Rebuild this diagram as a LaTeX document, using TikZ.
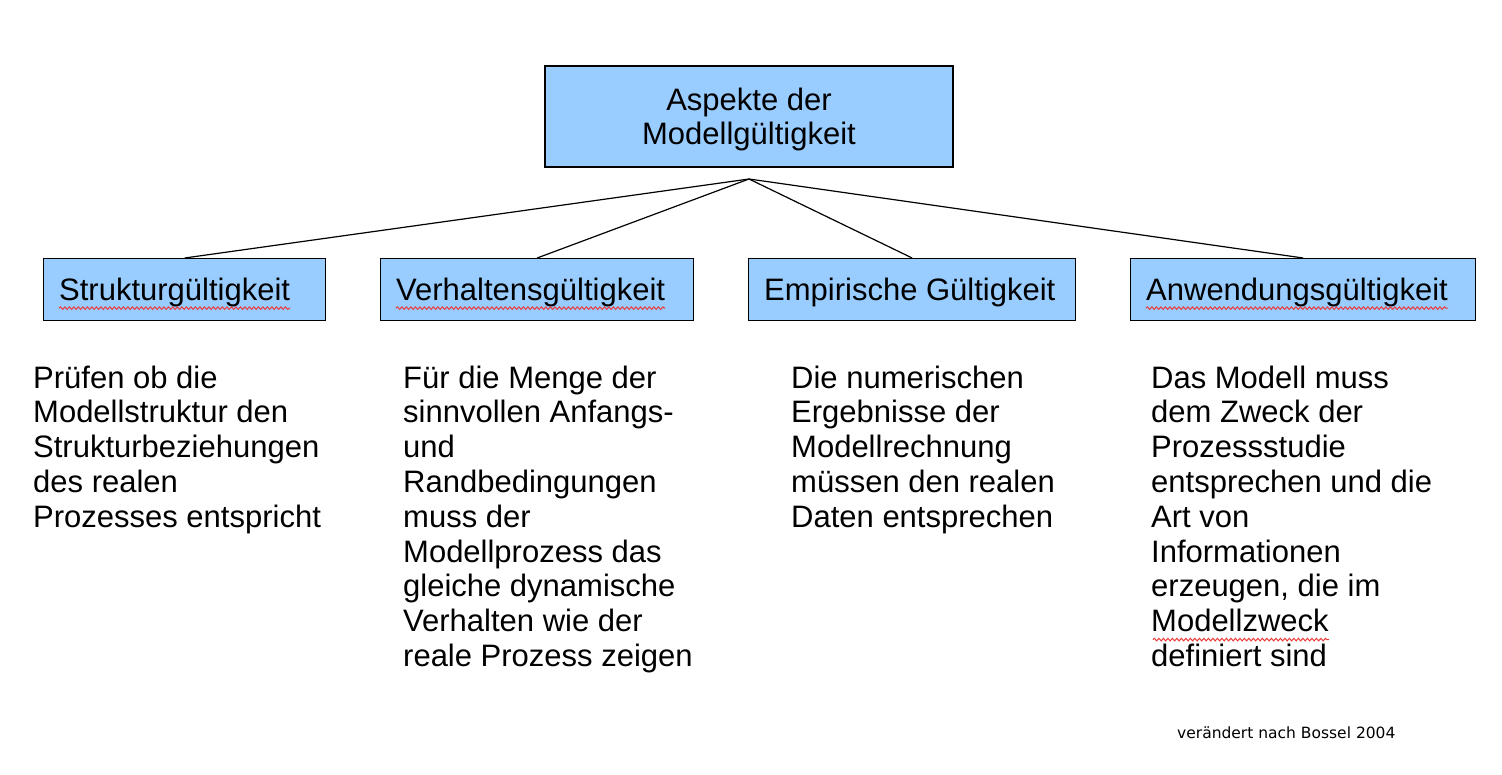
\documentclass[tikz,border=0pt]{standalone}
\usepackage{fontspec}
\setmainfont{Liberation Sans}
\newfontfamily\notefont{DejaVu Sans}
\usetikzlibrary{positioning}
\usetikzlibrary{decorations.pathmorphing}
\definecolor{boxblue}{RGB}{153,204,255}
\definecolor{spellred}{RGB}{235,60,60}
\tikzset{
  aspect/.style={draw=black, fill=boxblue, line width=1.3pt, inner sep=0pt},
  boxtext/.style={inner sep=0pt},
  bodytext/.style={inner sep=0pt, align=left},
  branch/.style={line width=1.2pt},
  wavy/.style={draw=spellred, line width=1pt, decorate,
    decoration={snake, segment length=4.5pt, amplitude=1.3pt}}
}

\begin{document}
\begin{tikzpicture}[x=1pt,y=1pt,yscale=-1,xscale=1,font=\fontsize{31}{34.8}\selectfont]
\useasboundingbox (0,0) rectangle (1502,774); %same frame as the slide

%Shape: top box
\node[aspect, minimum width=408, minimum height=101] (top) at (749,116.5) {};
\node[boxtext, align=center] (topt) at ([yshift=3]top.center) {Aspekte der\\Modellgültigkeit};
\coordinate (apex) at (749,179);

%Shape: the four aspect boxes
\node[aspect, minimum width=282, minimum height=62, anchor=north west] (sg) at (43,258) {};
\node[aspect, minimum width=313, minimum height=62, anchor=north west] (vg) at (380,258) {};
\node[aspect, minimum width=327, minimum height=62, anchor=north west] (eg) at (748,258) {};
\node[aspect, minimum width=345, minimum height=62, anchor=north west] (ag) at (1130,258) {};

% Text Node (y is flipped, so a positive yshift goes down)
\node[boxtext, anchor=base west] (sgt) at ([xshift=16,yshift=10.5]sg.west) {Strukturgültigkeit};
\node[boxtext, anchor=base west] (vgt) at ([xshift=16,yshift=10.5]vg.west) {Verhaltensgültigkeit};
\node[boxtext, anchor=base west] (egt) at ([xshift=16,yshift=10.5]eg.west) {Empirische Gültigkeit};
\node[boxtext, anchor=base west] (agt) at ([xshift=16,yshift=10.5]ag.west) {Anwendungsgültigkeit};

%Straight Lines
\draw[branch] (apex) -- (sg.north);
\draw[branch] (apex) -- (vg.north);
\draw[branch] (apex) -- (eg.north);
\draw[branch] (apex) -- (ag.north);

% Text Node (base = last line)
\node[bodytext, anchor=base west] (c1) at (33,527.2) {Prüfen ob die\\Modellstruktur den\\Strukturbeziehungen\\des realen\\Prozesses entspricht};
% Text Node
\node[bodytext, anchor=base west] (c2) at (403,666.4) {Für die Menge der\\sinnvollen Anfangs-\\und\\Randbedingungen\\muss der\\Modellprozess das\\gleiche dynamische\\Verhalten wie der\\reale Prozess zeigen};
% Text Node
\node[bodytext, anchor=base west] (c3) at (791,527.2) {Die numerischen\\Ergebnisse der\\Modellrechnung\\müssen den realen\\Daten entsprechen};
% Text Node
\node[bodytext, anchor=base west] (c4) at (1151,666.4) {Das Modell muss\\dem Zweck der\\Prozessstudie\\entsprechen und die\\Art von\\Informationen\\erzeugen, die im\\Modellzweck\\definiert sind};

% Text Node
\node[inner sep=0pt, anchor=base west, font=\notefont\fontsize{15.5}{18}\selectfont] (src) at (1177,738) {verändert nach Bossel 2004};

%Curve Lines: spelling marks
\draw[wavy] ([yshift=8]sgt.base west) -- ([yshift=8]sgt.base east);
\draw[wavy] ([yshift=8]vgt.base west) -- ([yshift=8]vgt.base east);
\draw[wavy] ([yshift=8]agt.base west) -- ([yshift=8]agt.base east);
\draw[wavy] ([xshift=2,yshift=-26.8]c4.base west) -- ([xshift=178,yshift=-26.8]c4.base west);

\end{tikzpicture}
\end{document}
